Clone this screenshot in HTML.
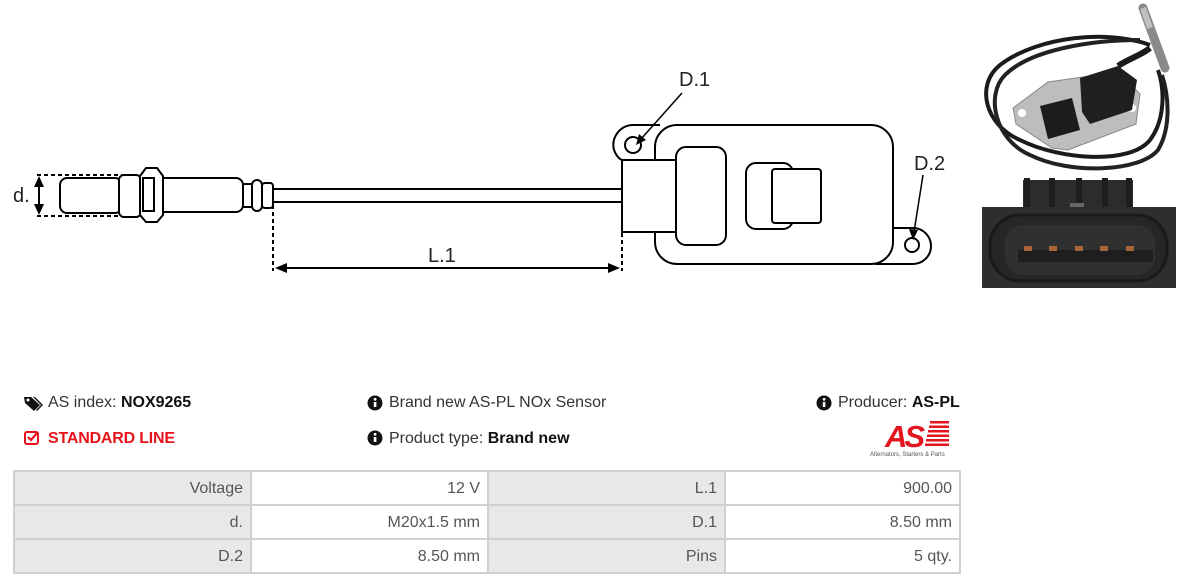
<!DOCTYPE html>
<html><head><meta charset="utf-8">
<style>
html,body{margin:0;padding:0;background:#fff;}
body{width:1185px;height:586px;position:relative;overflow:hidden;font-family:"Liberation Sans",Arial,sans-serif;}
.t{position:absolute;font-size:16px;color:#333;white-space:nowrap;line-height:16px;}
.b{font-weight:bold;color:#111;}
.cell{position:absolute;box-sizing:border-box;font-size:16px;color:#555;text-align:right;padding-right:7px;line-height:33px;}
.g{background:#e8e8e8;}
.w{background:#fff;}
</style></head><body>
<svg width="1185" height="586" style="position:absolute;left:0;top:0" xmlns="http://www.w3.org/2000/svg">
<g fill="none" stroke="#000" stroke-width="2">
<!-- d dimension -->
<line x1="37" y1="175" x2="122" y2="175" stroke-dasharray="4,3"/>
<line x1="37" y1="216" x2="126" y2="216" stroke-dasharray="4,3"/>
<line x1="39" y1="186" x2="39" y2="206"/>
<path d="M39,176 L34,187 L44,187 Z M39,215 L34,204 L44,204 Z" fill="#000" stroke="none"/>
<!-- probe -->
<rect x="60" y="178" width="62" height="35" rx="7" fill="#fff"/>
<rect x="119" y="175" width="22" height="42" rx="5" fill="#fff"/>
<rect x="154" y="178" width="89" height="34" rx="7" fill="#fff"/>
<path d="M140,176 L146,168 L157,168 L163,176 L163,215 L157,222 L146,222 L140,215 Z" fill="#fff"/>
<rect x="143" y="178" width="11" height="33" fill="none"/>
<rect x="243" y="184" width="9" height="23" fill="#fff"/>
<rect x="252" y="180" width="10" height="31" rx="5" fill="#fff"/>
<rect x="262" y="183" width="11" height="25" rx="3" fill="#fff"/>
<line x1="273" y1="189" x2="622" y2="189"/>
<line x1="273" y1="202" x2="622" y2="202"/>
<!-- L.1 -->
<line x1="273" y1="205" x2="273" y2="271" stroke-dasharray="4,3"/>
<line x1="622" y1="233" x2="622" y2="271" stroke-dasharray="4,3"/>
<line x1="285" y1="268" x2="610" y2="268"/>
<path d="M275,268 L287,263 L287,273 Z M620,268 L608,263 L608,273 Z" fill="#000" stroke="none"/>
<!-- sensor body -->
<rect x="655" y="125" width="238" height="139" rx="22" fill="#fff"/>
<path d="M660,125 H633 A20,20 0 0 0 614,150 Q617,158 622,160"/>
<circle cx="633" cy="145" r="8"/>
<path d="M893,228 H913 A18,18 0 0 1 913,264 H875"/>
<circle cx="912" cy="245" r="7"/>
<rect x="622" y="160" width="54" height="72" fill="#fff"/>
<rect x="676" y="147" width="50" height="98" rx="10" fill="#fff"/>
<rect x="746" y="163" width="47" height="66" rx="10" fill="#fff"/>
<rect x="772" y="169" width="49" height="54" rx="3" fill="#fff"/>
<!-- leaders -->
<line x1="682" y1="93" x2="641" y2="139" stroke-width="1.5"/>
<path d="M636,145 L639,134 L646,140 Z" fill="#000" stroke="none"/>
<line x1="923" y1="175" x2="914" y2="232" stroke-width="1.5"/>
<path d="M913,240 L909,229 L918,230 Z" fill="#000" stroke="none"/>
</g>
<g font-family="Liberation Sans, Arial, sans-serif" font-size="20" fill="#222">
<text x="13" y="202">d.</text>
<text x="428" y="262">L.1</text>
<text x="679" y="86">D.1</text>
<text x="914" y="170">D.2</text>
</g>
<!-- photo top -->
<g>
<path d="M1150,45 C1110,30 1040,35 1000,65 C975,85 985,125 1020,140 C1060,160 1130,165 1150,140 C1165,120 1165,90 1158,70" fill="none" stroke="#1b1b1b" stroke-width="4"/>
<path d="M1140,40 C1090,40 1030,50 1005,75 C985,95 995,140 1030,155 C1070,175 1140,172 1158,150 C1170,130 1170,100 1162,75" fill="none" stroke="#222" stroke-width="4"/>
<path d="M1143,8 L1165,68" stroke="#8a8a8a" stroke-width="9" stroke-linecap="round"/>
<path d="M1143,8 L1150,28" stroke="#c0c0c0" stroke-width="6"/>
<path d="M1013,108 L1048,82 L1118,72 L1140,94 L1136,124 L1068,150 L1052,148 L1016,124 Z" fill="#bdbdbd" stroke="#888" stroke-width="1"/>
<circle cx="1022" cy="113" r="4" fill="#fff"/>
<circle cx="1132" cy="108" r="4" fill="#fff"/>
<path d="M1040,106 L1072,98 L1080,130 L1048,139 Z" fill="#1c1c1c"/>
<path d="M1080,78 L1118,66 L1137,80 L1132,110 L1090,124 L1082,112 Z" fill="#1f1f1f"/>
<path d="M1118,66 C1130,58 1140,56 1150,48" stroke="#1b1b1b" stroke-width="6" fill="none"/>
</g>
<!-- photo bottom connector -->
<g>
<rect x="1023" y="180" width="110" height="30" fill="#2c2c2c"/>
<rect x="1024" y="178" width="6" height="30" fill="#1e1e1e"/>
<rect x="1049" y="178" width="6" height="30" fill="#1e1e1e"/>
<rect x="1076" y="178" width="6" height="30" fill="#1e1e1e"/>
<rect x="1102" y="178" width="6" height="30" fill="#1e1e1e"/>
<rect x="1126" y="178" width="6" height="30" fill="#1e1e1e"/>
<rect x="1070" y="203" width="14" height="8" fill="#666"/>
<rect x="982" y="207" width="194" height="81" fill="#2e2e2e"/>
<rect x="990" y="215" width="177" height="66" rx="30" fill="#262626" stroke="#1a1a1a" stroke-width="3"/>
<rect x="1005" y="225" width="150" height="50" rx="18" fill="#303030"/>
<rect x="1018" y="250" width="135" height="12" fill="#1e1e1e"/>
<g fill="#a8653a">
<rect x="1024" y="246" width="8" height="5"/>
<rect x="1049" y="246" width="8" height="5"/>
<rect x="1075" y="246" width="8" height="5"/>
<rect x="1100" y="246" width="8" height="5"/>
<rect x="1126" y="246" width="8" height="5"/>
</g>
</g>
<!-- icons -->
<g>
<path d="M24,397 L31,397 L40,405 L34,411 L25,403 Z" fill="#111"/>
<circle cx="28" cy="400" r="1.5" fill="#fff"/>
<path d="M33,397 L35,397 L43,405 L37,411 L36,410 L41,405 Z" fill="#111"/>
<circle cx="375" cy="403" r="7.5" fill="#111"/>
<circle cx="824" cy="403" r="7.5" fill="#111"/>
<circle cx="375" cy="438" r="7.5" fill="#111"/>
<g fill="#fff"><rect x="373.8" y="402" width="2.6" height="5"/><circle cx="375.1" cy="399.3" r="1.4"/>
<rect x="822.8" y="402" width="2.6" height="5"/><circle cx="824.1" cy="399.3" r="1.4"/>
<rect x="373.8" y="437" width="2.6" height="5"/><circle cx="375.1" cy="434.3" r="1.4"/></g>
<rect x="25" y="432" width="13" height="12" rx="2" fill="none" stroke="#e8141c" stroke-width="2"/>
<path d="M28,437 L31,440 L38,432" fill="none" stroke="#e8141c" stroke-width="2.2"/>
<!-- AS logo -->
<text x="885" y="447" font-family="Liberation Sans, Arial, sans-serif" font-size="31" font-weight="bold" font-style="italic" fill="#e3161f" letter-spacing="-3">AS</text>
<g fill="#e3161f">
<rect x="930" y="421" width="19" height="2.5"/><rect x="929" y="425.5" width="20" height="2.5"/>
<rect x="928" y="430" width="21" height="2.5"/><rect x="927" y="434.5" width="22" height="2.5"/>
<rect x="926" y="439" width="23" height="2.5"/><rect x="925" y="443.5" width="24" height="2.5"/>
</g>
<text x="870" y="456" font-family="Liberation Sans, Arial, sans-serif" font-size="6" fill="#555">Alternators, Starters &amp; Parts</text>
</g>
</svg>

<div class="t" style="left:48px;top:395px;">AS index: <span class="b">NOX9265</span></div>
<div class="t" style="left:389px;top:395px;">Brand new AS-PL NOx Sensor</div>
<div class="t" style="left:838px;top:395px;">Producer: <span class="b">AS-PL</span></div>
<div class="t" style="left:48px;top:431px;color:#e8141c;font-weight:bold;letter-spacing:-0.2px;">STANDARD LINE</div>
<div class="t" style="left:389px;top:431px;">Product type: <span class="b">Brand new</span></div>

<!-- table -->
<div style="position:absolute;left:13px;top:470px;width:948px;height:104px;background:#d0d0d0;"></div>
<div class="cell g" style="left:15px;top:472px;width:235px;height:32px;">Voltage</div>
<div class="cell w" style="left:252px;top:472px;width:235px;height:32px;">12 V</div>
<div class="cell g" style="left:489px;top:472px;width:235px;height:32px;">L.1</div>
<div class="cell w" style="left:726px;top:472px;width:233px;height:32px;">900.00</div>
<div class="cell g" style="left:15px;top:506px;width:235px;height:32px;">d.</div>
<div class="cell w" style="left:252px;top:506px;width:235px;height:32px;">M20x1.5 mm</div>
<div class="cell g" style="left:489px;top:506px;width:235px;height:32px;">D.1</div>
<div class="cell w" style="left:726px;top:506px;width:233px;height:32px;">8.50 mm</div>
<div class="cell g" style="left:15px;top:540px;width:235px;height:32px;">D.2</div>
<div class="cell w" style="left:252px;top:540px;width:235px;height:32px;">8.50 mm</div>
<div class="cell g" style="left:489px;top:540px;width:235px;height:32px;">Pins</div>
<div class="cell w" style="left:726px;top:540px;width:233px;height:32px;">5 qty.</div>
</body></html>
